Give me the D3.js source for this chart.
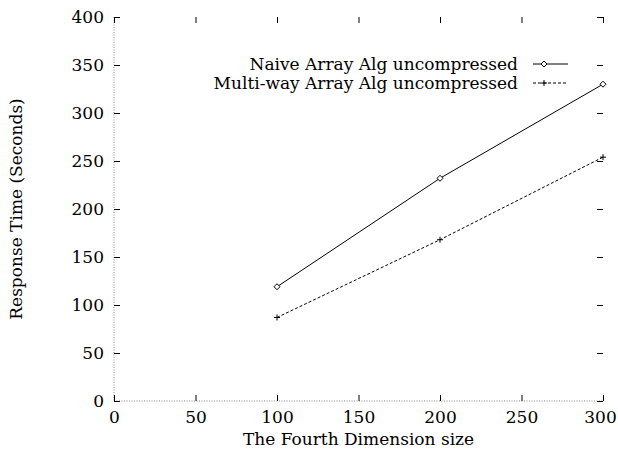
<!DOCTYPE html>
<html>
<head>
<meta charset="utf-8">
<script src="https://cdn.jsdelivr.net/npm/d3@7"></script>
<style>
  body { margin: 0; background: #fff; }
  text { font-family: "DejaVu Serif", "Liberation Serif", serif; fill: #000; }
</style>
</head>
<body>
<div class="chart"></div>
<script>
// datos del gráfico
var sizes = [100, 200, 300];
var naive = [119, 232, 330];
var multiway = [87, 168, 254];
var seriesNames = ["Naive Array Alg uncompressed", "Multi-way Array Alg uncompressed"];
var xTicks = [0, 50, 100, 150, 200, 250, 300];
var yTicks = [0, 50, 100, 150, 200, 250, 300, 350, 400];

var W = 618, H = 452;
var margin = {top: 17, right: 15, bottom: 51, left: 114};
var w = W - margin.left - margin.right;
var h = H - margin.top - margin.bottom;
var fs = "17px";

var svg = d3.select(".chart").append("svg")
    .attr("width", W).attr("height", H);

var g = svg.append("g")
    .attr("transform", "translate(" + margin.left + "," + margin.top + ")");

var x = d3.scaleLinear().domain([0, 300]).range([0, w]);
var y = d3.scaleLinear().domain([0, 400]).range([h, 0]);

// ejes cero punteados
g.append("line").attr("x1", 0).attr("x2", 0).attr("y1", 0).attr("y2", h)
    .attr("stroke", "#888").attr("stroke-dasharray", "1,1.5");
g.append("line").attr("x1", 0).attr("x2", w).attr("y1", h).attr("y2", h)
    .attr("stroke", "#888").attr("stroke-dasharray", "1,1.5");

var tick = 6;
function noDomain(sel) { sel.select(".domain").remove(); }

// eje izquierdo con etiquetas
g.append("g")
    .call(d3.axisLeft(y).tickValues(yTicks).tickSize(-tick).tickPadding(10))
    .call(noDomain)
    .call(a => a.selectAll("text").style("font-size", fs));
// eje inferior con etiquetas
g.append("g")
    .attr("transform", "translate(0," + h + ")")
    .call(d3.axisBottom(x).tickValues(xTicks).tickSize(-tick).tickPadding(10))
    .call(noDomain)
    .call(a => a.selectAll("text").style("font-size", fs)
        .filter(d => d === 300).attr("dx", -3));  // que no se corte en el borde
// marcas arriba y a la derecha
g.append("g")
    .call(d3.axisTop(x).tickValues(xTicks).tickSize(-tick).tickFormat(""))
    .call(noDomain);
g.append("g")
    .attr("transform", "translate(" + w + ",0)")
    .call(d3.axisRight(y).tickValues(yTicks).tickSize(-tick).tickFormat(""))
    .call(noDomain);
g.selectAll(".tick line").attr("stroke", "#000");

// títulos de ejes
svg.append("text")
    .attr("x", margin.left + w / 2).attr("y", 445)
    .attr("text-anchor", "middle").style("font-size", fs)
    .text("The Fourth Dimension size");
svg.append("text")
    .attr("transform", "translate(22," + (margin.top + h / 2) + ") rotate(-90)")
    .attr("text-anchor", "middle").style("font-size", fs)
    .text("Response Time (Seconds)");

var line = d3.line().x(d => x(d[0])).y(d => y(d[1]));
var series = [
  {vals: naive, dash: null, marker: "diamond"},
  {vals: multiway, dash: "3,2", marker: "plus"}
];

function drawMarker(sel, type, cx, cy) {
  if (type === "diamond") {
    sel.append("path")
      .attr("d", "M" + cx + "," + (cy - 3) + "L" + (cx + 3) + "," + cy + "L" + cx + "," + (cy + 3) + "L" + (cx - 3) + "," + cy + "Z")
      .attr("fill", "#fff").attr("stroke", "#000");
  } else {
    sel.append("path")
      .attr("d", "M" + (cx - 3) + "," + cy + "H" + (cx + 3) + "M" + cx + "," + (cy - 3) + "V" + (cy + 3))
      .attr("stroke", "#000");
  }
}

series.forEach(function(s, i) {
  var pts = sizes.map((d, j) => [d, s.vals[j]]);
  g.append("path").datum(pts).attr("d", line)
    .attr("fill", "none").attr("stroke", "#000").attr("stroke-width", 1)
    .attr("stroke-dasharray", s.dash);
  pts.forEach(p => drawMarker(g, s.marker, x(p[0]), y(p[1])));

  // leyenda
  var ly = 64 + i * 19;
  svg.append("text").attr("x", 518).attr("y", ly + 6)
    .attr("text-anchor", "end").style("font-size", fs).text(seriesNames[i]);
  svg.append("line").attr("x1", 533).attr("x2", 568).attr("y1", ly).attr("y2", ly)
    .attr("stroke", "#000").attr("stroke-dasharray", s.dash);
  drawMarker(svg, s.marker, 544, ly);
});
</script>
</body>
</html>
